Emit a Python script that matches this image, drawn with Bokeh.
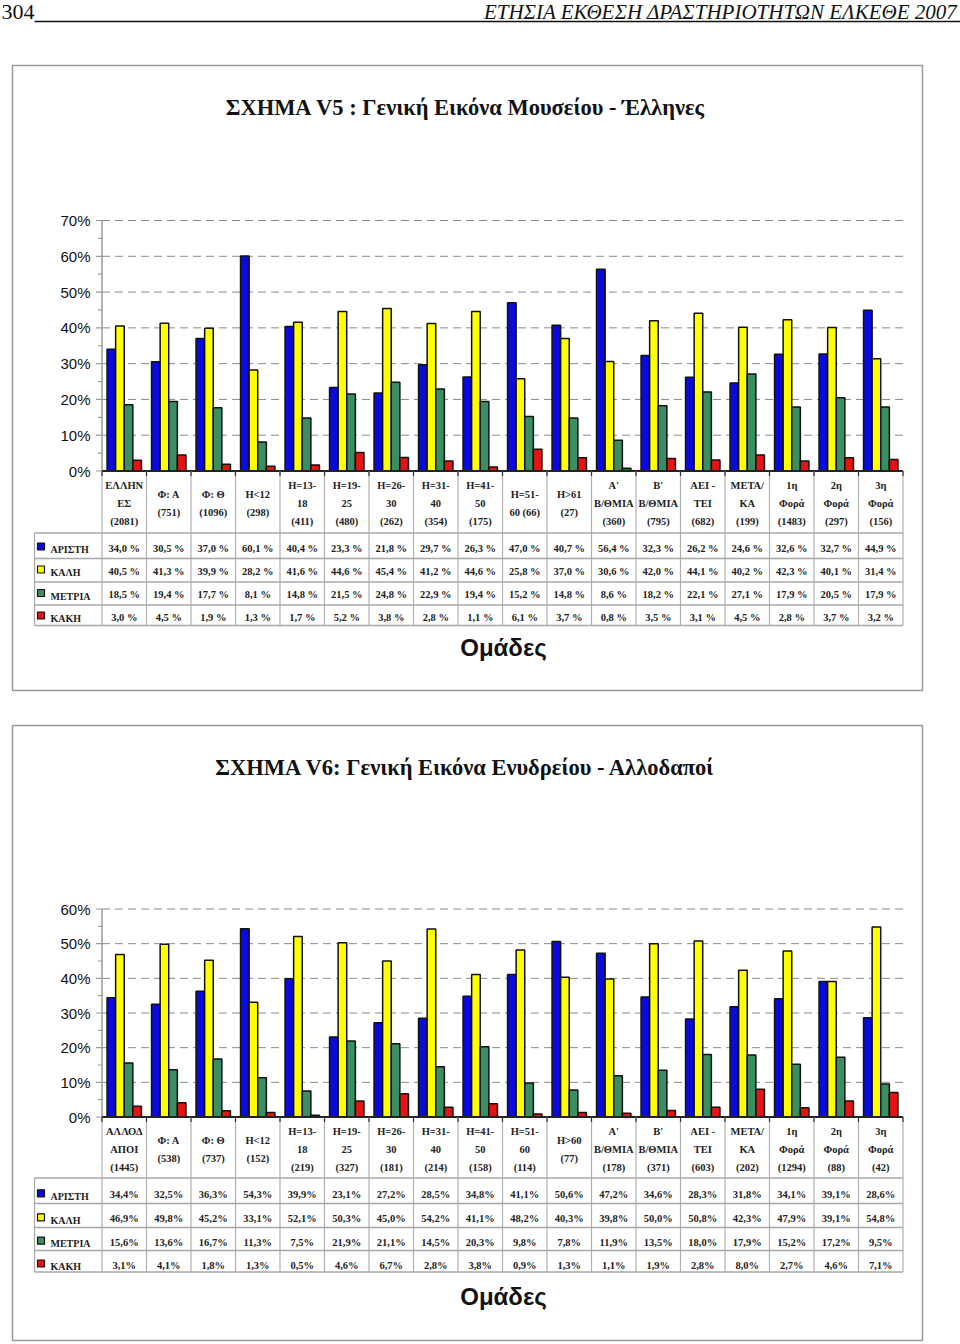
from bokeh.plotting import figure
from bokeh.models import Range1d
from bokeh.transform import dodge
from bokeh.core.properties import value
from bokeh.embed import file_html
from bokeh.resources import INLINE

W, H = 960, 1344

# ---------------- data ----------------
series_names = ["ΑΡΙΣΤΗ", "ΚΑΛΗ", "ΜΕΤΡΙΑ", "ΚΑΚΗ"]
series_colors = ["#0A0ADC", "#FFFF00", "#3A8F62", "#E41414"]

page_number = "304"
page_header = "ΕΤΗΣΙΑ ΕΚΘΕΣΗ ΔΡΑΣΤΗΡΙΟΤΗΤΩΝ ΕΛΚΕΘΕ 2007"
axis_title = "Ομάδες"

v5_title = "ΣΧΗΜΑ V5 : Γενική Εικόνα Μουσείου - Έλληνες"
v5_groups = ["ΕΛΛΗΝ\nΕΣ\n(2081)", "Φ: Α\n(751)", "Φ: Θ\n(1096)", "Η<12\n(298)",
             "Η=13-\n18\n(411)", "Η=19-\n25\n(480)", "Η=26-\n30\n(262)", "Η=31-\n40\n(354)",
             "Η=41-\n50\n(175)", "Η=51-\n60 (66)", "Η>61\n(27)", "Α'\nΒ/ΘΜΙΑ\n(360)",
             "Β'\nΒ/ΘΜΙΑ\n(795)", "ΑΕΙ -\nΤΕΙ\n(682)", "ΜΕΤΑ/\nΚΑ\n(199)", "1η\nΦορά\n(1483)",
             "2η\nΦορά\n(297)", "3η\nΦορά\n(156)"]
v5_aristi = [34.0, 30.5, 37.0, 60.1, 40.4, 23.3, 21.8, 29.7, 26.3, 47.0, 40.7, 56.4, 32.3, 26.2, 24.6, 32.6, 32.7, 44.9]
v5_kali = [40.5, 41.3, 39.9, 28.2, 41.6, 44.6, 45.4, 41.2, 44.6, 25.8, 37.0, 30.6, 42.0, 44.1, 40.2, 42.3, 40.1, 31.4]
v5_metria = [18.5, 19.4, 17.7, 8.1, 14.8, 21.5, 24.8, 22.9, 19.4, 15.2, 14.8, 8.6, 18.2, 22.1, 27.1, 17.9, 20.5, 17.9]
v5_kaki = [3.0, 4.5, 1.9, 1.3, 1.7, 5.2, 3.8, 2.8, 1.1, 6.1, 3.7, 0.8, 3.5, 3.1, 4.5, 2.8, 3.7, 3.2]
v5_ticks = [0, 10, 20, 30, 40, 50, 60, 70]
v5_tick_labels = ["0%", "10%", "20%", "30%", "40%", "50%", "60%", "70%"]

v6_title = "ΣΧΗΜΑ V6: Γενική Εικόνα Ενυδρείου - Αλλοδαποί"
v6_groups = ["ΑΛΛΟΔ\nΑΠΟΙ\n(1445)", "Φ: Α\n(538)", "Φ: Θ\n(737)", "Η<12\n(152)",
             "Η=13-\n18\n(219)", "Η=19-\n25\n(327)", "Η=26-\n30\n(181)", "Η=31-\n40\n(214)",
             "Η=41-\n50\n(158)", "Η=51-\n60\n(114)", "Η>60\n(77)", "Α'\nΒ/ΘΜΙΑ\n(178)",
             "Β'\nΒ/ΘΜΙΑ\n(371)", "ΑΕΙ -\nΤΕΙ\n(603)", "ΜΕΤΑ/\nΚΑ\n(202)", "1η\nΦορά\n(1294)",
             "2η\nΦορά\n(88)", "3η\nΦορά\n(42)"]
v6_aristi = [34.4, 32.5, 36.3, 54.3, 39.9, 23.1, 27.2, 28.5, 34.8, 41.1, 50.6, 47.2, 34.6, 28.3, 31.8, 34.1, 39.1, 28.6]
v6_kali = [46.9, 49.8, 45.2, 33.1, 52.1, 50.3, 45.0, 54.2, 41.1, 48.2, 40.3, 39.8, 50.0, 50.8, 42.3, 47.9, 39.1, 54.8]
v6_metria = [15.6, 13.6, 16.7, 11.3, 7.5, 21.9, 21.1, 14.5, 20.3, 9.8, 7.8, 11.9, 13.5, 18.0, 17.9, 15.2, 17.2, 9.5]
v6_kaki = [3.1, 4.1, 1.8, 1.3, 0.5, 4.6, 6.7, 2.8, 3.8, 0.9, 1.3, 1.1, 1.9, 2.8, 8.0, 2.7, 4.6, 7.1]
v6_ticks = [0, 10, 20, 30, 40, 50, 60]
v6_tick_labels = ["0%", "10%", "20%", "30%", "40%", "50%", "60%"]

# ---------------- layout constants (pixels) ----------------
AX_PX = 101.5          # y-axis line position
COL_W = 44.5           # width of one group column
TBL_LEFT = 34          # left edge of the table legend column
SERIF = value("Liberation Serif")
SANS = value("Liberation Sans")

p = figure(width=W, height=H, x_range=Range1d(0, W), y_range=Range1d(H, 0),
           output_backend="svg", toolbar_location=None, min_border=0,
           x_axis_location=None, y_axis_location=None)
p.xgrid.visible = False
p.ygrid.visible = False
p.outline_line_color = None
p.background_fill_color = "white"
p.border_fill_color = "white"

cat_start = -0.5 - AX_PX / COL_W
p.extra_x_ranges = {"cat": Range1d(cat_start, cat_start + W / COL_W)}

# ---------------- page header ----------------
p.text(x=[1], y=[11], text=[page_number], text_font=SERIF, text_font_size="22px",
       text_align="left", text_baseline="middle", text_color="#111111")
p.text(x=[957], y=[11], text=[page_header], text_font=SERIF, text_font_style="italic",
       text_font_size="21px", text_align="right", text_baseline="middle", text_color="#111111")
p.segment(x0=[34], y0=[21], x1=[960], y1=[21], line_color="#111111", line_width=1.5)

charts = [
    dict(title=v5_title, groups=v5_groups, values=[v5_aristi, v5_kali, v5_metria, v5_kaki],
         ticks=v5_ticks, tick_labels=v5_tick_labels, suffix=" %",
         box=(12, 65, 922, 690), title_y=107, zero_px=470.5, top_px=220.0,
         head_y=503, row_lines=[532.5, 558, 581.5, 604.5, 625],
         row_y=[547.5, 570.5, 594, 616.5], xlab_y=647, yname="v5"),
    dict(title=v6_title, groups=v6_groups, values=[v6_aristi, v6_kali, v6_metria, v6_kaki],
         ticks=v6_ticks, tick_labels=v6_tick_labels, suffix="%",
         box=(12, 725, 922, 1340), title_y=767, zero_px=1116.5, top_px=908.5,
         head_y=1149, row_lines=[1177.5, 1203, 1227, 1250, 1271.5],
         row_y=[1194.3, 1218.3, 1241.7, 1264.5], xlab_y=1296, yname="v6"),
]

BAR_W = 0.193
OFFS = [-0.29, -0.097, 0.097, 0.29]

for c in charts:
    n = len(c["groups"])
    ymax = c["ticks"][-1]
    k = (c["zero_px"] - c["top_px"]) / ymax
    s = -(H - c["zero_px"]) / k
    p.extra_y_ranges[c["yname"]] = Range1d(s, s + H / k)
    yn = c["yname"]
    right_px = AX_PX + n * COL_W
    bx0, by0, bx1, by1 = c["box"]

    # frame box
    p.quad(left=[bx0], right=[bx1], top=[by0], bottom=[by1], fill_color=None,
           line_color="#9a9a9a", line_width=1.5)
    # title
    p.text(x=[465], y=[c["title_y"]], text=[c["title"]], text_font=SERIF, text_font_style="bold",
           text_font_size="22.5px", text_align="center", text_baseline="middle", text_color="#111111")

    # grid lines
    gt = c["ticks"][1:]
    p.segment(x0=[AX_PX] * len(gt), x1=[right_px] * len(gt), y0=gt, y1=gt, y_range_name=yn,
              line_color="#8a8a8a", line_width=1, line_dash="8 5")
    # y axis line and ticks
    p.segment(x0=[AX_PX], x1=[AX_PX], y0=[0], y1=[ymax], y_range_name=yn,
              line_color="#9a9a9a", line_width=1.5)
    tk = c["ticks"]
    p.segment(x0=[AX_PX - 6] * len(tk), x1=[AX_PX] * len(tk), y0=tk, y1=tk, y_range_name=yn,
              line_color="#9a9a9a", line_width=1.2)
    minor = [(a + b) / 2 for a, b in zip(tk, tk[1:])]
    p.segment(x0=[AX_PX - 4] * len(minor), x1=[AX_PX] * len(minor), y0=minor, y1=minor,
              y_range_name=yn, line_color="#9a9a9a", line_width=1.2)
    p.text(x=[90] * len(tk), y=tk, text=c["tick_labels"], y_range_name=yn, text_font=SANS,
           text_font_size="15px", text_align="right", text_baseline="middle", text_color="#111111")

    # bars
    src = dict(idx=list(range(n)))
    for name, vals in zip(series_names, c["values"]):
        src[name] = vals
    for j, (name, col) in enumerate(zip(series_names, series_colors)):
        p.vbar(x=dodge("idx", OFFS[j]), top=name, bottom=0, width=BAR_W, source=src,
               x_range_name="cat", y_range_name=yn, fill_color=col,
               line_color="#111111", line_width=1.5)

    # x axis line
    p.segment(x0=[-0.5], x1=[n - 0.5], y0=[0], y1=[0], x_range_name="cat", y_range_name=yn,
              line_color="#222222", line_width=2)

    # table grid
    bounds = [i - 0.5 for i in range(n + 1)]
    zp = c["zero_px"]
    rl = c["row_lines"]
    p.segment(x0=bounds, x1=bounds, y0=[zp] * len(bounds), y1=[rl[-1]] * len(bounds),
              x_range_name="cat", line_color="#b0b0b0", line_width=1.2)
    p.segment(x0=bounds, x1=bounds, y0=[zp] * len(bounds), y1=[zp + 5] * len(bounds),
              x_range_name="cat", line_color="#333333", line_width=1.2)
    p.segment(x0=[TBL_LEFT] * len(rl), x1=[right_px] * len(rl), y0=rl, y1=rl,
              line_color="#a8a8a8", line_width=1.5)
    p.segment(x0=[TBL_LEFT], x1=[TBL_LEFT], y0=[rl[0]], y1=[rl[-1]],
              line_color="#a8a8a8", line_width=1.2)

    # header labels
    hx, hy, ht = [], [], []
    for i, g in enumerate(c["groups"]):
        lines = g.split("\n")
        m = len(lines)
        for j, ln in enumerate(lines):
            hx.append(i)
            hy.append(c["head_y"] + (j - (m - 1) / 2) * 17.6)
            ht.append(ln)
    p.text(x=hx, y=hy, text=ht, x_range_name="cat", text_font=SERIF, text_font_style="bold",
           text_font_size="10.5px", text_align="center", text_baseline="middle", text_color="#222222")

    # legend column and values
    ry = c["row_y"]
    p.rect(x=[40.5] * 4, y=[v - 1.5 for v in ry], width=7, height=7, fill_color=series_colors,
           line_color="#111111", line_width=1.2)
    p.text(x=[50] * 4, y=[v + 1.5 for v in ry], text=series_names, text_font=SERIF,
           text_font_style="bold", text_font_size="10px", text_align="left",
           text_baseline="middle", text_color="#222222")
    vx, vy, vt = [], [], []
    for r, vals in enumerate(c["values"]):
        for i, v in enumerate(vals):
            vx.append(i)
            vy.append(ry[r])
            vt.append(f"{v:.1f}".replace(".", ",") + c["suffix"])
    p.text(x=vx, y=vy, text=vt, x_range_name="cat", text_font=SERIF, text_font_style="bold",
           text_font_size="10.5px", text_align="center", text_baseline="middle", text_color="#222222")

    # category axis title
    p.text(x=[503], y=[c["xlab_y"]], text=[axis_title], text_font=SANS, text_font_style="bold",
           text_font_size="24px", text_align="center", text_baseline="middle", text_color="#111111")

open("out.html", "w").write(file_html(p, INLINE))
